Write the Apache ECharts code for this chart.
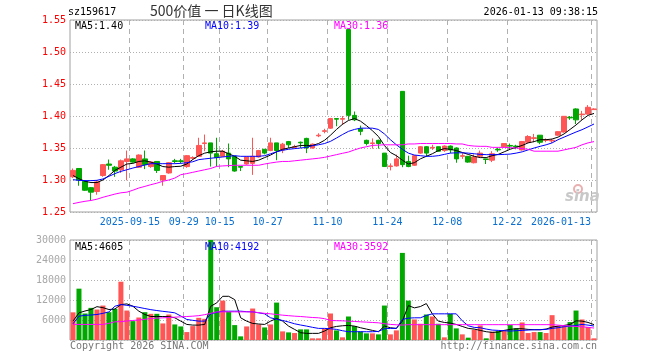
<!DOCTYPE html>
<html><head><meta charset="utf-8">
<script src="https://cdn.jsdelivr.net/npm/echarts@6/dist/echarts.min.js"></script>
<style>html,body{margin:0;padding:0;background:#fff}#c{width:660px;height:360px}</style>
</head><body><div id="c"></div>
<script>
const dates = ['2025-09-01','2025-09-02','2025-09-03','2025-09-04','2025-09-05','2025-09-08','2025-09-09','2025-09-10','2025-09-11','2025-09-12',
'2025-09-15','2025-09-16','2025-09-17','2025-09-18','2025-09-19','2025-09-22','2025-09-23','2025-09-24','2025-09-25','2025-09-29',
'2025-09-30','2025-10-09','2025-10-10','2025-10-13','2025-10-14','2025-10-15','2025-10-16','2025-10-17','2025-10-20','2025-10-21',
'2025-10-22','2025-10-23','2025-10-24','2025-10-27','2025-10-28','2025-10-29','2025-10-30','2025-10-31','2025-11-03','2025-11-04',
'2025-11-05','2025-11-06','2025-11-07','2025-11-10','2025-11-11','2025-11-12','2025-11-13','2025-11-14','2025-11-17','2025-11-18',
'2025-11-19','2025-11-20','2025-11-21','2025-11-24','2025-11-25','2025-11-26','2025-11-27','2025-11-28','2025-12-01','2025-12-02',
'2025-12-03','2025-12-04','2025-12-05','2025-12-08','2025-12-09','2025-12-10','2025-12-11','2025-12-12','2025-12-15','2025-12-16',
'2025-12-17','2025-12-18','2025-12-19','2025-12-22','2025-12-23','2025-12-24','2025-12-25','2025-12-26','2025-12-29','2025-12-30',
'2025-12-31','2026-01-05','2026-01-06','2026-01-07','2026-01-08','2026-01-09','2026-01-12','2026-01-13'];

const openP = [1.305,1.318,1.298,1.288,1.282,1.307,1.325,1.320,1.316,1.329,
1.333,1.320,1.333,1.321,1.329,1.300,1.311,1.330,1.330,1.321,
1.334,1.337,1.357,1.358,1.341,1.337,1.342,1.337,1.321,1.325,
1.326,1.336,1.348,1.346,1.358,1.347,1.360,1.351,1.359,1.365,
1.350,1.369,1.376,1.381,1.396,1.395,1.535,1.401,1.380,1.362,
1.357,1.362,1.342,1.321,1.322,1.4385,1.329,1.323,1.342,1.352,
1.350,1.352,1.346,1.353,1.350,1.337,1.337,1.327,1.337,1.333,
1.331,1.348,1.352,1.354,1.353,1.347,1.359,1.365,1.370,1.362,
1.361,1.370,1.375,1.398,1.411,1.402,1.403,1.410];
const closeP = [1.315,1.300,1.284,1.281,1.297,1.324,1.323,1.314,1.330,1.333,
1.328,1.339,1.324,1.328,1.315,1.307,1.327,1.329,1.329,1.338,
1.335,1.354,1.358,1.342,1.335,1.345,1.333,1.314,1.320,1.336,
1.337,1.346,1.342,1.358,1.346,1.356,1.355,1.352,1.358,1.350,
1.356,1.370,1.377,1.396,1.395,1.396,1.401,1.394,1.376,1.357,
1.358,1.357,1.321,1.322,1.333,1.324,1.321,1.338,1.352,1.342,
1.351,1.345,1.353,1.347,1.333,1.338,1.328,1.336,1.342,1.332,
1.341,1.347,1.357,1.353,1.352,1.360,1.368,1.366,1.359,1.363,
1.362,1.3755,1.3995,1.397,1.394,1.403,1.4136,1.411];
const lowP = [1.303,1.291,1.283,1.268,1.277,1.305,1.316,1.305,1.311,1.2995,
1.327,1.319,1.317,1.319,1.311,1.291,1.310,1.326,1.326,1.319,
1.332,1.336,1.345,1.321,1.321,1.336,1.320,1.313,1.314,1.324,
1.308,1.335,1.340,1.345,1.331,1.342,1.350,1.349,1.350,1.342,
1.349,1.367,1.373,1.380,1.384,1.386,1.394,1.392,1.370,1.354,
1.349,1.349,1.321,1.315,1.321,1.320,1.320,1.322,1.341,1.336,
1.347,1.344,1.344,1.342,1.327,1.333,1.327,1.326,1.336,1.325,
1.328,1.344,1.351,1.348,1.348,1.346,1.358,1.359,1.356,1.359,
1.358,1.369,1.374,1.394,1.3875,1.394,1.402,1.410];
const highP = [1.318,1.318,1.299,1.289,1.300,1.325,1.332,1.322,1.332,1.346,
1.334,1.340,1.346,1.329,1.329,1.307,1.328,1.333,1.333,1.339,
1.337,1.366,1.371,1.358,1.366,1.347,1.357,1.337,1.321,1.337,
1.366,1.347,1.348,1.366,1.358,1.358,1.361,1.355,1.360,1.366,
1.357,1.373,1.380,1.397,1.396,1.400,1.535,1.407,1.385,1.363,
1.365,1.363,1.342,1.326,1.3396,1.4385,1.338,1.339,1.353,1.353,
1.355,1.352,1.354,1.354,1.351,1.342,1.337,1.340,1.346,1.333,
1.345,1.350,1.357,1.357,1.355,1.361,1.370,1.372,1.370,1.365,
1.364,1.376,1.400,1.400,1.412,1.408,1.417,1.412];
const volume = [8300,15400,7950,9640,9140,10330,8350,9340,17480,8840,
5660,6750,8350,7850,7850,4970,7650,4670,4070,2380,
4170,6650,6360,30000,9830,11820,8440,4470,1090,4070,
9440,4670,3770,4670,11220,2580,2280,2090,3180,3180,
500,500,3380,7950,2880,800,7050,4170,2580,1990,
1990,1690,10330,1690,2880,26130,11820,6160,4870,7650,
7050,4870,800,7850,3480,1690,700,3080,4370,500,
2480,2680,2680,4470,3480,5270,2090,2380,2380,2090,
7450,4170,4170,5370,8840,6160,3880,500];

const ma5 = [1.307,1.302,1.298,1.296,1.296,1.300,1.307,1.315,1.320,1.325,
1.326,1.329,1.330,1.328,1.325,1.321,1.320,1.321,1.3215,1.325,
1.332,1.338,1.342,1.344,1.345,1.345,1.341,1.337,1.331,1.330,
1.329,1.331,1.335,1.339,1.344,1.348,1.350,1.352,1.354,1.354,
1.354,1.357,1.362,1.370,1.379,1.387,1.393,1.396,1.392,1.385,
1.377,1.368,1.354,1.343,1.338,1.331,1.325,1.327,1.333,1.337,
1.341,1.346,1.349,1.348,1.346,1.343,1.340,1.337,1.335,1.335,
1.338,1.340,1.344,1.348,1.351,1.354,1.358,1.360,1.363,1.363,
1.364,1.367,1.372,1.379,1.386,1.394,1.401,1.404];
const ma10 = [1.3005,1.2995,1.299,1.299,1.2995,1.3016,1.3057,1.310,1.3135,1.316,
1.3187,1.321,1.3234,1.3255,1.3255,1.3255,1.3255,1.3255,1.326,1.327,
1.3285,1.3318,1.333,1.334,1.335,1.336,1.337,1.338,1.337,1.337,
1.337,1.337,1.338,1.341,1.344,1.3464,1.348,1.349,1.350,1.351,
1.3536,1.355,1.357,1.3604,1.3656,1.371,1.376,1.379,1.381,1.381,
1.381,1.379,1.372,1.363,1.355,1.348,1.342,1.339,1.338,1.337,
1.337,1.338,1.340,1.342,1.3425,1.3425,1.342,1.341,1.340,1.3396,
1.3396,1.3396,1.340,1.3405,1.342,1.344,1.347,1.350,1.3526,1.355,
1.358,1.363,1.367,1.371,1.375,1.3786,1.383,1.3875];
const ma30 = [1.263,1.265,1.2667,1.268,1.270,1.273,1.2755,1.278,1.280,1.281,
1.284,1.2875,1.290,1.2927,1.295,1.298,1.300,1.303,1.3083,1.310,
1.312,1.314,1.316,1.318,1.3213,1.322,1.3225,1.323,1.323,1.323,
1.323,1.323,1.325,1.3266,1.328,1.329,1.329,1.330,1.331,1.332,
1.333,1.334,1.3354,1.3375,1.3396,1.3417,1.3437,1.347,1.350,1.352,
1.354,1.3545,1.355,1.355,1.355,1.355,1.3563,1.3563,1.357,1.357,
1.357,1.357,1.357,1.357,1.3563,1.3563,1.354,1.353,1.3526,1.3526,
1.351,1.351,1.351,1.3505,1.350,1.349,1.348,1.345,1.345,1.345,
1.345,1.345,1.347,1.349,1.351,1.355,1.358,1.360];
const vma5 = [5660,8150,8700,9140,10000,9700,9140,9300,10630,10830,
10130,8640,7650,7050,7050,7050,7000,6660,5660,4670,
4470,4470,4670,10130,11130,13110,13110,12120,6660,5660,
4970,4800,4670,5660,6460,5660,4170,3180,2190,1990,
1990,1990,2680,3680,4070,4270,4370,4170,3680,3280,
2880,2480,4170,3680,3480,5660,10330,9640,10030,10930,
7850,5660,5270,5070,4670,4070,3480,3280,2880,2480,
2280,2380,2880,3180,3380,3380,3180,3080,3080,3280,
3870,4170,4370,4670,5760,5660,5270,4605];
const vma10 = [4870,7150,7400,7500,7650,8000,8440,10130,10630,10400,
10130,9800,9440,9100,8840,8600,8400,8150,7200,6160,
5900,5660,5660,7850,8300,8640,8640,8640,8640,8500,
8440,8150,7850,6660,6200,5860,5400,4870,4500,4170,
3800,3480,3480,3380,3180,2780,2480,2480,2480,2480,
2480,2580,3380,3480,3480,6160,6560,6660,6660,7350,
7850,7850,7850,7850,7850,5760,4270,3780,3680,3280,
2980,2880,2780,2680,2780,2880,2980,3080,3080,3180,
3480,3680,3980,4170,4370,4670,4470,4192];
const vma30 = [4670,4670,4670,4670,4670,4670,5000,5460,5500,5700,
5860,6000,6200,6460,6550,6650,6750,6850,6950,7050,
7150,7300,7600,8000,8440,8440,8440,8440,8440,8440,
8440,8200,8000,7850,7650,7450,7300,7150,7050,6900,
6750,6660,6400,5860,5800,5750,5660,5560,5460,5360,
5260,5160,4900,4670,4570,4470,4600,4600,4600,4600,
4600,4600,4600,4600,4600,4600,4600,4600,4600,4600,
4600,4600,4600,4600,4600,4600,4600,4600,4600,4600,
4600,4470,4300,4170,4070,3970,3800,3592];

const tickDates = ['2025-09-15','2025-09-29','2025-10-15','2025-10-27','2025-11-10','2025-11-24','2025-12-08','2025-12-22','2026-01-13'];
const tickLabels = ['2025-09-15','09-29','10-15','10-27','11-10','11-24','12-08','12-22','2026-01-13'];

const UP = '#ff5555', DOWN = '#00a800';
const MONO = 'DejaVu Sans Mono';
const GRIDC = '#b0b0b0';
const tickSet = new Set(tickDates);

const candles = dates.map((d, i) => [openP[i], closeP[i], lowP[i], highP[i]]);
const volData = volume.map((v, i) => ({value: v, itemStyle: {color: closeP[i] >= openP[i] ? UP : DOWN}}));

const chart = echarts.init(document.getElementById('c'), null, {renderer: 'canvas'});
function catAxis(gi, withLabels) {
  return {
    type: 'category', data: dates, boundaryGap: true, gridIndex: gi,
    axisLine: {show: false}, axisTick: {show: false}, splitLine: {show: false},
    axisLabel: withLabels ? {
      show: true, interval: (i, v) => tickSet.has(v), margin: 5,
      fontFamily: MONO, fontSize: 10, color: '#0a6fcf',
      formatter: (v) => {
        const k = tickDates.indexOf(v); const t = tickLabels[k];
        return k === tickDates.length - 1 ? '{r|' + t + '}' : '{c|' + t + '}';
      },
      rich: {c: {fontFamily: MONO, fontSize: 10, color: '#0a6fcf', padding: [0, 6, 0, 0]},
             r: {fontFamily: MONO, fontSize: 10, color: '#0a6fcf', padding: [0, 66, 0, 0]}}
    } : {show: false}
  };
}
function lineS(name, data, color, xi, yi) {
  return {name, type: 'line', data, xAxisIndex: xi, yAxisIndex: yi, symbol: 'none', smooth: false,
    lineStyle: {color, width: 1}, z: 5, silent: true};
}
const TXT = '10px "DejaVu Sans Mono"';
const texts = [
  {type: 'text', left: 68, top: 7, style: {text: 'sz159617', font: TXT, fill: '#000'}},
  {type: 'text', left: 150, top: 4, style: {text: '500价值 一 日K线图', font: '14px "Noto Sans CJK SC"', fill: '#333'}},
  {type: 'text', right: 62, top: 7, style: {text: '2026-01-13 09:38:15', font: TXT, fill: '#000'}},
  {type: 'text', left: 75, top: 21, z: 10, style: {text: 'MA5:' + ma5[ma5.length - 1].toFixed(2), font: TXT, fill: '#000'}},
  {type: 'text', left: 205, top: 21, z: 10, style: {text: 'MA10:' + ma10[ma10.length - 1].toFixed(2), font: TXT, fill: '#0000ff'}},
  {type: 'text', left: 334, top: 21, z: 10, style: {text: 'MA30:' + ma30[ma30.length - 1].toFixed(2), font: TXT, fill: '#ff00ff'}},
  {type: 'text', left: 75, top: 242, z: 10, style: {text: 'MA5:' + vma5[vma5.length - 1], font: TXT, fill: '#000'}},
  {type: 'text', left: 205, top: 242, z: 10, style: {text: 'MA10:' + vma10[vma10.length - 1], font: TXT, fill: '#0000ff'}},
  {type: 'text', left: 334, top: 242, z: 10, style: {text: 'MA30:' + vma30[vma30.length - 1], font: TXT, fill: '#ff00ff'}},
  {type: 'text', left: 70, top: 341, style: {text: 'Copyright 2026 SINA.COM', font: TXT, fill: '#777'}},
  {type: 'text', right: 63, top: 341, style: {text: 'http://finance.sina.com.cn', font: TXT, fill: '#777'}},
  {type: 'circle', shape: {cx: 578, cy: 189, r: 4}, style: {fill: 'none', stroke: '#e8b0b0', lineWidth: 2}, z: 1},
  {type: 'text', left: 565, top: 190, z: 1, style: {text: 'sina', font: 'italic bold 15px "DejaVu Sans"', fill: '#c8c8c8'}}
];
chart.setOption({
  animation: false,
  backgroundColor: '#fff',
  grid: [
    {left: 70, top: 20, width: 527, height: 192, show: true, borderColor: '#a0a0a0', borderWidth: 1},
    {left: 70, top: 240, width: 527, height: 100, show: true, borderColor: '#a0a0a0', borderWidth: 1}
  ],
  xAxis: [catAxis(0, true), catAxis(1, false)],
  yAxis: [
    {type: 'value', gridIndex: 0, min: 1.25, max: 1.55, interval: 0.05,
      axisLine: {show: false}, axisTick: {show: false},
      axisLabel: {fontFamily: MONO, fontSize: 10, color: '#ff0000', margin: 4, formatter: v => v.toFixed(2)},
      splitLine: {show: true, lineStyle: {color: GRIDC, type: [1, 2], width: 1}}},
    {type: 'value', gridIndex: 1, min: 0, max: 30000, interval: 6000,
      axisLine: {show: false}, axisTick: {show: false},
      axisLabel: {fontFamily: MONO, fontSize: 10, color: '#a8a8a8', margin: 4, formatter: v => v === 0 ? '' : String(v)},
      splitLine: {show: true, lineStyle: {color: GRIDC, type: [1, 2], width: 1}}}
  ],
  series: [
    {name: 'K', type: 'candlestick', data: candles, xAxisIndex: 0, yAxisIndex: 0, barWidth: 5, z: 3,
      itemStyle: {color: UP, color0: DOWN, borderColor: UP, borderColor0: DOWN, borderWidth: 1}, silent: true},
    lineS('MA5', ma5, '#000000', 0, 0),
    lineS('MA10', ma10, '#0000ff', 0, 0),
    lineS('MA30', ma30, '#ff00ff', 0, 0),
    {name: 'VOL', type: 'bar', data: volData, xAxisIndex: 1, yAxisIndex: 1, barWidth: 5, z: 3, silent: true},
    lineS('VMA5', vma5, '#000000', 1, 1),
    lineS('VMA10', vma10, '#0000ff', 1, 1),
    lineS('VMA30', vma30, '#ff00ff', 1, 1)
  ],
  graphic: texts
});

// date separators on the left edge of each labelled day's band, positioned through the axis scales
const seps = [];
[[0, 1.55, 1.25], [1, 30000, 0]].forEach(([g, yMax, yMin]) => {
  const yT = chart.convertToPixel({yAxisIndex: g}, yMax);
  const yB = chart.convertToPixel({yAxisIndex: g}, yMin);
  tickDates.forEach(d => {
    const i = dates.indexOf(d);
    const c = chart.convertToPixel({xAxisIndex: g}, i);
    const c1 = chart.convertToPixel({xAxisIndex: g}, i + 1);
    const x = Math.floor(c - (c1 - c) / 2) + 0.5;
    seps.push({type: 'line', z: 0, silent: true,
      shape: {x1: x, y1: yT, x2: x, y2: yB},
      style: {stroke: GRIDC, lineWidth: 1, lineDash: [5, 4]}});
  });
});
chart.setOption({graphic: seps.concat(texts)}, {replaceMerge: ['graphic']});
</script></body></html>
